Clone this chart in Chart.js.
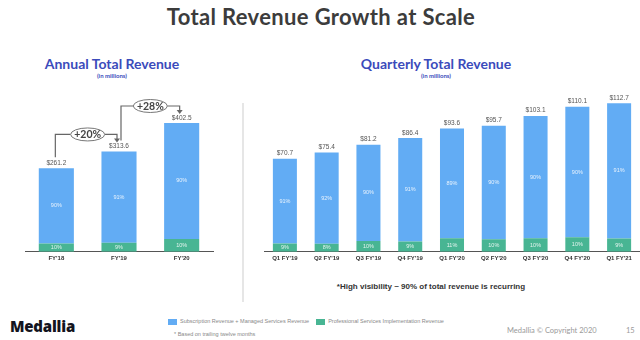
<!DOCTYPE html>
<html>
<head>
<meta charset="utf-8">
<script src="https://cdn.jsdelivr.net/npm/chart.js@4.4.1/dist/chart.umd.min.js"></script>
<style>
  html, body { margin: 0; padding: 0; background: #fff; }
  #page { position: relative; width: 640px; height: 340px; overflow: hidden; font-family: Lato, "Open Sans", sans-serif; }
  .t { position: absolute; white-space: nowrap; line-height: 1; }
  .c { transform: translateX(-50%); }
  #title { left: 321px; top: 6px; font-size: 22px; font-weight: 700; color: #3c3c3c; letter-spacing: 0.35px; }
  .head { font-size: 14px; font-weight: 700; color: #3b4bbb; }
  .unit { font-size: 6px; font-weight: 700; color: #3b4bbb; }
  #divider { position: absolute; left: 242px; top: 103px; width: 2px; height: 199px; background: #e6e6e6; }
  canvas { position: absolute; }
  .note { font-family: "Liberation Sans", Arial, sans-serif; font-size: 8px; font-weight: 700; color: #333; }
  .leg { font-family: "Liberation Sans", Arial, sans-serif; font-size: 5.5px; color: #888; display: flex; align-items: center; }
  .sw { display: inline-block; width: 9px; height: 6px; margin-right: 3px; }
  #logo { left: 10px; top: 319px; font-size: 15px; font-weight: 800; color: #14141e; font-family: "Open Sans", Lato, sans-serif; letter-spacing: -0.2px; }
  .foot { font-size: 7.5px; color: #9a9a9a; }
</style>
</head>
<body>
<div id="page">
  <div id="title" class="t c">Total Revenue Growth at Scale</div>
  <div class="t c head" style="left:112px; top:57px;">Annual Total Revenue</div>
  <div class="t c unit" style="left:112px; top:73px;">(in millions)</div>
  <div class="t c head" style="left:436px; top:57px;">Quarterly Total Revenue</div>
  <div class="t c unit" style="left:436px; top:73px;">(in millions)</div>
  <div id="divider"></div>
  <canvas id="annual" width="235" height="184" style="left:0px; top:85px;"></canvas>
  <canvas id="quarterly" width="390" height="184" style="left:250px; top:85px;"></canvas>
  <div class="t c note" style="left:431px; top:283px;">*High visibility ~ 90% of total revenue is recurring</div>
  <div class="t leg" style="left:168px; top:319px;"><span class="sw" style="background:#62acf4"></span>Subscription Revenue + Managed Services Revenue<span class="sw" style="background:#48b593; margin-left:7px;"></span>Professional Services Implementation Revenue</div>
  <div class="t leg" style="left:174px; top:332px;">* Based on trailing twelve months</div>
  <div id="logo" class="t">Medallia</div>
  <div class="t foot" style="left:507px; top:327px;">Medallia © Copyright 2020</div>
  <div class="t foot" style="left:626px; top:327px;">15</div>
</div>
<script>
const years = ["FY'18", "FY'19", "FY'20"];
const yearTotals = [261.2, 313.6, 402.5];
const yearSubPct = [90, 91, 90];
const yearProPct = [10, 9, 10];
const yearGrowth = ['+20%', '+28%'];

const quarters = ["Q1 FY'19", "Q2 FY'19", "Q3 FY'19", "Q4 FY'19", "Q1 FY'20", "Q2 FY'20", "Q3 FY'20", "Q4 FY'20", "Q1 FY'21"];
const quarterTotals = [70.7, 75.4, 81.2, 86.4, 93.6, 95.7, 103.1, 110.1, 112.7];
const quarterSubPct = [91, 92, 90, 91, 89, 90, 90, 90, 91];
const quarterProPct = [9, 8, 10, 9, 11, 10, 10, 10, 9];

const colors = { sub: '#62acf4', pro: '#48b593', axis: '#555', label: '#555' };

const segment = (totals, pct) => totals.map((t, i) => t * pct[i] / 100);

// etiquetas: % dentro de cada tramo y total encima
const barLabels = {
  id: 'barLabels',
  afterDatasetsDraw(chart, args, opts) {
    const ctx = chart.ctx;
    ctx.save();
    ctx.textAlign = 'center';
    ctx.textBaseline = 'middle';
    chart.data.datasets.forEach((ds, di) => {
      chart.getDatasetMeta(di).data.forEach((bar, i) => {
        ctx.fillStyle = 'rgba(255,255,255,0.85)';
        ctx.font = '5.5px "Liberation Sans", Arial, sans-serif';
        ctx.fillText(ds.pct[i] + '%', bar.x, (bar.y + bar.base) / 2);
      });
    });
    const top = chart.getDatasetMeta(chart.data.datasets.length - 1).data;
    ctx.textBaseline = 'bottom';
    ctx.fillStyle = colors.label;
    ctx.font = '6.5px "Liberation Sans", Arial, sans-serif';
    top.forEach((bar, i) => ctx.fillText('$' + opts.totals[i].toFixed(1), bar.x, bar.y - 2));
    ctx.restore();
  }
};

// flechas de crecimiento anual con el óvalo
const growthArrows = {
  id: 'growthArrows',
  afterDraw(chart) {
    if (chart.canvas.id !== 'annual') return;
    const ctx = chart.ctx;
    const bars = chart.getDatasetMeta(1).data;
    ctx.save();
    yearGrowth.forEach((txt, i) => {
      const a = bars[i], b = bars[i + 1];
      const ey = b.y - 17;
      const ex = (a.x + b.x) / 2;
      const rx = 17, ry = 6.5;
      ctx.strokeStyle = '#666';
      ctx.fillStyle = '#666';
      ctx.lineWidth = 1.2;
      ctx.beginPath();
      ctx.moveTo(a.x + (i ? 2 : -1), a.y - 11);
      ctx.lineTo(a.x + (i ? 2 : -1), ey);
      ctx.lineTo(ex - rx, ey);
      ctx.moveTo(ex + rx, ey);
      ctx.lineTo(b.x - 2, ey);
      ctx.lineTo(b.x - 2, b.y - 12);
      ctx.stroke();
      ctx.beginPath();
      ctx.moveTo(b.x - 5, b.y - 13);
      ctx.lineTo(b.x + 1, b.y - 13);
      ctx.lineTo(b.x - 2, b.y - 9);
      ctx.closePath();
      ctx.fill();
      ctx.beginPath();
      ctx.ellipse(ex, ey, rx, ry, 0, 0, Math.PI * 2);
      ctx.fillStyle = '#fff';
      ctx.fill();
      ctx.strokeStyle = '#777';
      ctx.lineWidth = 1;
      ctx.stroke();
      ctx.fillStyle = '#444';
      ctx.font = 'bold 10.5px Lato, sans-serif';
      ctx.textAlign = 'center';
      ctx.textBaseline = 'middle';
      ctx.fillText(txt, ex, ey + 0.5);
    });
    ctx.restore();
  }
};

function stackedRevenue(id, labels, totals, subPct, proPct, opts) {
  return new Chart(document.getElementById(id), {
    type: 'bar',
    data: {
      labels,
      datasets: [
        { label: 'Professional Services Implementation Revenue', data: segment(totals, proPct), pct: proPct, backgroundColor: colors.pro },
        { label: 'Subscription Revenue + Managed Services Revenue', data: segment(totals, subPct), pct: subPct, backgroundColor: colors.sub },
      ],
    },
    options: {
      responsive: false,
      animation: false,
      layout: { padding: opts.padding },
      categoryPercentage: 1,
      barPercentage: opts.barPct,
      plugins: {
        legend: { display: false },
        tooltip: { enabled: false },
        barLabels: { totals },
      },
      scales: {
        x: {
          stacked: true,
          grid: { display: false, drawTicks: false },
          border: { display: true, color: colors.axis, width: 1 },
          ticks: { color: '#333', padding: 3, font: { size: 6, weight: 'bold', family: '"Liberation Sans", Arial, sans-serif' } },
        },
        y: { stacked: true, display: false, min: 0, max: opts.max },
      },
    },
    plugins: [barLabels, growthArrows],
  });
}

stackedRevenue('annual', years, yearTotals, yearSubPct, yearProPct,
  { padding: { left: 25, right: 22, top: 10, bottom: 4 }, barPct: 0.56, max: 490 });
stackedRevenue('quarterly', quarters, quarterTotals, quarterSubPct, quarterProPct,
  { padding: { left: 14, right: 0, top: 10, bottom: 4 }, barPct: 0.575, max: 119 });
</script>
</body>
</html>
